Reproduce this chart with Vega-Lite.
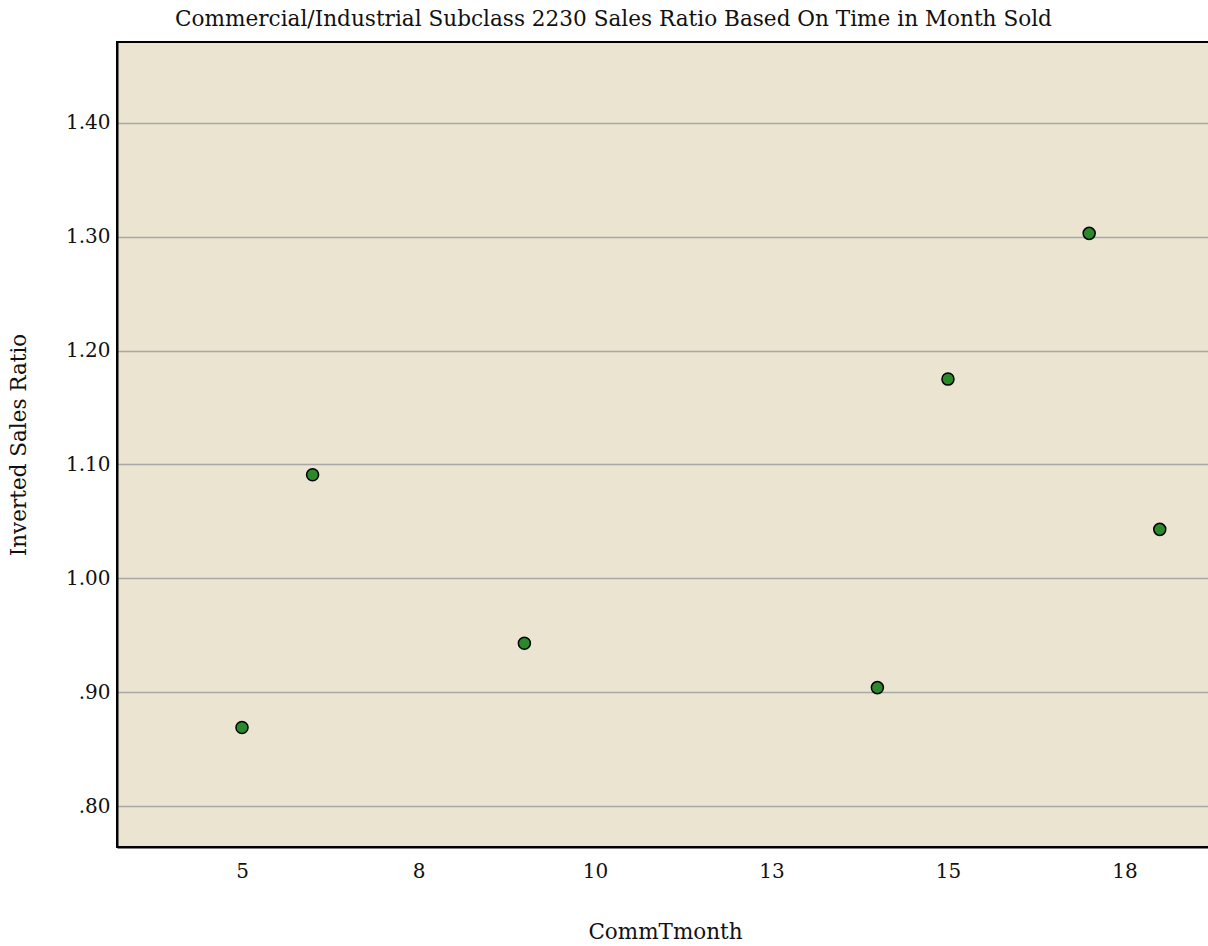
{
  "$schema": "https://vega.github.io/schema/vega-lite/v6.json",
  "autosize": {"type": "none"},
  "padding": {"left": 117, "top": 42, "right": 0, "bottom": 99},
  "width": 1093,
  "height": 805,
  "background": "white",
  "title": {
    "text": "Commercial/Industrial Subclass 2230 Sales Ratio Based On Time in Month Sold",
    "anchor": "start",
    "frame": "group",
    "dx": 58,
    "offset": 11,
    "font": "DejaVu Serif",
    "fontSize": 21.6,
    "fontWeight": "normal",
    "color": "#111111"
  },
  "config": {
    "view": {"fill": "#EAE4D0", "stroke": "#000000", "strokeWidth": 2},
    "axis": {
      "labelFont": "DejaVu Serif",
      "titleFont": "DejaVu Serif",
      "labelFontSize": 20,
      "titleFontSize": 21.5,
      "labelColor": "#111111",
      "titleColor": "#111111",
      "titleFontWeight": "normal",
      "domainColor": "#000000",
      "domainWidth": 2
    }
  },
  "data": {
    "values": [
      {"CommTmonth": 5, "ratio": 0.869},
      {"CommTmonth": 6, "ratio": 1.091},
      {"CommTmonth": 9, "ratio": 0.943},
      {"CommTmonth": 14, "ratio": 0.904},
      {"CommTmonth": 15, "ratio": 1.175},
      {"CommTmonth": 17, "ratio": 1.303},
      {"CommTmonth": 18, "ratio": 1.043}
    ]
  },
  "mark": {"type": "point", "filled": true, "fill": "#2A8A2A", "stroke": "#000000", "strokeWidth": 1.5, "size": 145, "opacity": 1},
  "encoding": {
    "x": {
      "field": "CommTmonth",
      "type": "quantitative",
      "scale": {"domain": [3.2295, 18.7115], "nice": false, "zero": false},
      "axis": {
        "title": "CommTmonth",
        "values": [5, 7.5, 10, 12.5, 15, 17.5],
        "format": ".0f",
        "grid": false,
        "ticks": false,
        "labelPadding": 14,
        "titlePadding": 40,
        "titleX": 548
      }
    },
    "y": {
      "field": "ratio",
      "type": "quantitative",
      "scale": {"domain": [0.764, 1.4711], "nice": false, "zero": false},
      "axis": {
        "title": "Inverted Sales Ratio",
        "values": [0.8, 0.9, 1.0, 1.1, 1.2, 1.3, 1.4],
        "format": ".2f",
        "labelExpr": "datum.value < 1 ? substring(datum.label, 1) : datum.label",
        "grid": true,
        "gridColor": "#A8A8A8",
        "gridWidth": 1.5,
        "gridOpacity": 1,
        "ticks": false,
        "labelPadding": 7,
        "titlePadding": 35
      }
    }
  }
}
